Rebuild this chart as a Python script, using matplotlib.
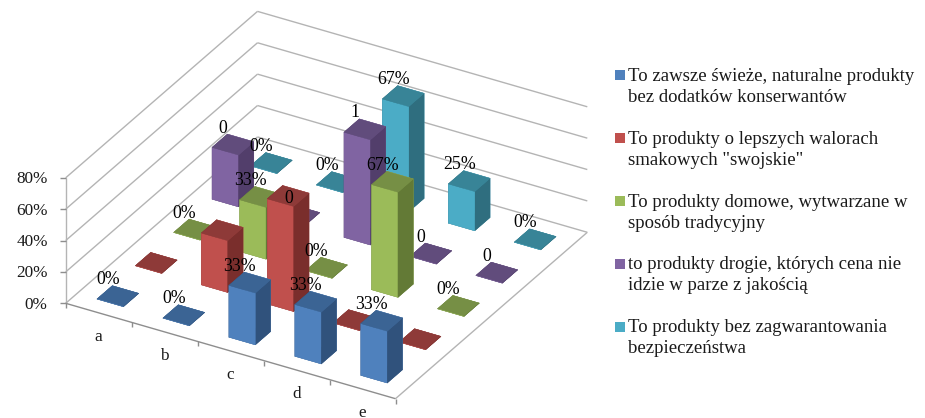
import numpy as np
import matplotlib
matplotlib.use("Agg")
import matplotlib.pyplot as plt
from matplotlib.patches import Rectangle
from mpl_toolkits.mplot3d import proj3d
from mpl_toolkits.mplot3d.art3d import Line3DCollection

plt.rcParams['font.family'] = ['Liberation Serif', 'DejaVu Serif']

categories = ['a', 'b', 'c', 'd', 'e']
ticks = [0.0, 0.2, 0.4, 0.6, 0.8]
tick_labels = ['0%', '20%', '40%', '60%', '80%']

blue = [0.0, 0.0, 0.33, 0.33, 0.33]
red = [0.0, 0.33, 0.67, 0.0, 0.0]
green = [0.0, 0.33, 0.0, 0.67, 0.0]
purple = [0.33, 0.0, 0.67, 0.0, 0.0]
cyan = [0.0, 0.0, 0.67, 0.25, 0.0]

blue_labels = ['0%', '0%', '33%', '33%', '33%']
red_labels = [None, None, None, None, None]
green_labels = ['0%', '33%', '0%', '67%', '0%']
purple_labels = ['0', '0', '1', '0', '0']
cyan_labels = ['0%', '0%', '67%', '25%', '0%']

series = [blue, red, green, purple, cyan]
labels = [blue_labels, red_labels, green_labels, purple_labels, cyan_labels]
names = ['To zawsze świeże, naturalne produkty\nbez dodatków konserwantów',
         'To produkty o lepszych walorach\nsmakowych "swojskie"',
         'To produkty domowe, wytwarzane w\nsposób tradycyjny',
         'to produkty drogie, których cena nie\nidzie w parze z jakością',
         'To produkty bez zagwarantowania\nbezpieczeństwa']
front = ['#4F81BD', '#C0504D', '#9BBB59', '#8064A2', '#4BACC6']
side = ['#30527C', '#7A2E2C', '#637A36', '#523E6B', '#2F6E7F']
top = ['#3B6494', '#8E3A38', '#768F45', '#614C7C', '#388497']

W, H = 925, 418
fig = plt.figure(figsize=(W / 100, H / 100), dpi=100, facecolor='white')
ax = fig.add_axes([0, 0, 1, 1], projection='3d')
ax.apply_aspect = lambda position=None: None
ax.set_axis_off()
ax.computed_zorder = False

# Oblique projection of the chart box: category, series and value axes in pixels
ORIGIN = (65.7, 303.3)
CAT_STEP = (65.96, 19.08)
SER_STEP = (38.36, -33.28)
VAL_SCALE = 156.9
A = ax.transData.inverted().get_matrix()
px_row = np.array([CAT_STEP[0], SER_STEP[0], 0.0, ORIGIN[0]])
py_row = np.array([-CAT_STEP[1], -SER_STEP[1], VAL_SCALE, H - ORIGIN[1]])
M = np.array([
    A[0, 0] * px_row + np.array([0, 0, 0, A[0, 2]]),
    A[1, 1] * py_row + np.array([0, 0, 0, A[1, 2]]),
    [-1.0, 1.0, -5.0, 0.0],
    [0.0, 0.0, 0.0, 1.0],
])
ax.get_proj = lambda: M


def hshift(px):
    """Category/series offset that moves a point horizontally by px pixels."""
    ratio = CAT_STEP[1] / -SER_STEP[1]
    dx = px / (CAT_STEP[0] + SER_STEP[0] * ratio)
    return dx, dx * ratio


def text3(x, y, z, s, **kw):
    """Text at a projected chart position."""
    u, v, _ = proj3d.proj_transform(x, y, z, M)
    return ax.text2D(u, v, s, transform=ax.transData, **kw)


n_cat, n_ser = len(categories), len(series)
GRID = '#B4B4B4'
AXIS = '#8E8E8E'

# walls and floor gridlines
grid_segments = []
for t in ticks:
    grid_segments.append([(0, 0, t), (0, n_ser, t)])
    grid_segments.append([(0, n_ser, t), (n_cat, n_ser, t)])
grid_segments.append([(n_cat, 0, 0), (n_cat, n_ser, 0)])
grid_segments.append([(0, 0, ticks[0]), (0, 0, ticks[-1])])
ax.add_collection3d(Line3DCollection(grid_segments, colors=GRID, linewidths=1.0, zorder=1))

# axis line and ticks
axis_segments = [[(0, 0, 0), (n_cat, 0, 0)]]
d1 = hshift(-6)
d2 = hshift(-18)
for t, s in zip(ticks, tick_labels):
    axis_segments.append([(0, 0, t), (d1[0], d1[1], t)])
    text3(d2[0], d2[1], t - 1.5 / VAL_SCALE, s, ha='right', va='center', fontsize=12.4,
          color='#1a1a1a', zorder=100)
for i in range(n_cat + 1):
    axis_segments.append([(i, 0, 0), (i, 0, -0.032)])
ax.add_collection3d(Line3DCollection(axis_segments, colors=AXIS, linewidths=1.0, zorder=2))

for i, c in enumerate(categories):
    text3(i + 0.5, 0, -0.155, c, ha='center', va='center', fontsize=12.4,
          color='#1a1a1a', zorder=100)

# bars, painted from the back corner forward
BAR = 0.40
order = sorted(((j - i, i, j) for i in range(n_cat) for j in range(n_ser)), reverse=True)
for z, (_, i, j) in enumerate(order):
    h = series[j][i]
    cols = [top[j], top[j], front[j], front[j], side[j], side[j]]
    ax.bar3d(i + 0.5 - BAR / 2, j + 0.5 - BAR / 2, 0, BAR, BAR, h, color=cols,
             shade=False, edgecolors=cols, linewidth=0.3, zorder=10 + z)

# data labels
off = hshift(-10)
for j in range(n_ser):
    for i in range(n_cat):
        s = labels[j][i]
        if s is not None:
            text3(i + 0.5 + off[0], j + 0.5 + off[1], series[j][i] + 16.5 / VAL_SCALE, s,
                  ha='center', va='center', fontsize=12.8, color='black', zorder=100)

# legend
leg_y = [75, 138, 201, 263.5, 326.5]
for name, col, y in zip(names, front, leg_y):
    fig.add_artist(Rectangle((615 / W, 1 - (y + 5) / H), 10 / W, 10 / H, color=col,
                             transform=fig.transFigure, lw=0))
    fig.text(628.3 / W, 1 - (y + 11.8) / H, name, ha='left', va='center', fontsize=13.5,
             linespacing=1.33, color='#1a1a1a')

fig.savefig('out.png', dpi=100, facecolor='white')
